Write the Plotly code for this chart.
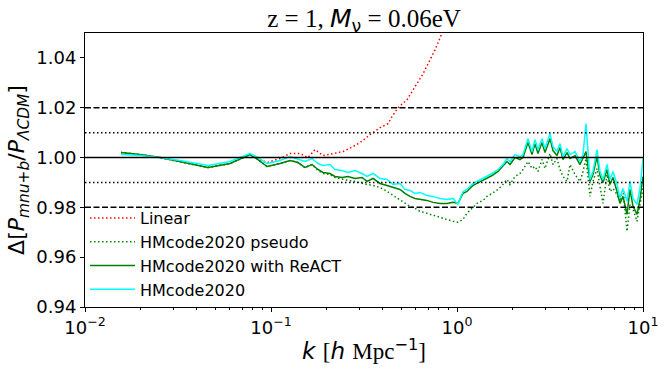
import plotly.graph_objects as go

# ---- data ----
k_nl = [0.01561, 0.01976, 0.02531, 0.03242, 0.04585, 0.06021, 0.07711, 0.08513, 0.09517, 0.11178,
        0.12652, 0.13970, 0.15233, 0.16611, 0.17893, 0.19037, 0.20760, 0.22080, 0.24080, 0.25944,
        0.28291, 0.30850, 0.32817, 0.35354, 0.38552, 0.42042, 0.45282, 0.49376, 0.52523, 0.55869,
        0.59430, 0.63218, 0.68982, 0.74294, 0.81015, 0.88361, 0.95171, 1.01246, 1.0771, 1.1317,
        1.2189, 1.2806, 1.3798, 1.4497, 1.5429, 1.6616, 1.7675, 1.8570, 1.9272, 2.0500,
        2.1808, 2.2632, 2.4078, 2.5301, 2.6258, 2.7253, 2.8638, 2.9722, 3.1623, 3.2819,
        3.4486, 3.5790, 3.7144, 3.9031, 4.0508, 4.3095, 4.5849, 4.7582, 4.9382, 5.1891,
        5.3852, 5.6586, 5.8722, 6.0942, 6.4040, 6.6459, 6.8970, 7.2476, 7.5215, 7.8057,
        8.2024, 8.5124, 8.8342, 9.2832, 9.6355, 10.0]

hmcode = [1.0012, 1.0008, 1.0000, 0.9988, 0.9968, 0.9984, 1.0016, 1.0000, 0.9976, 0.9988,
          1.0004, 0.9992, 0.9984, 0.9996, 0.9976, 0.9968, 0.9972, 0.9952, 0.9948, 0.9940,
          0.9948, 0.9936, 0.9924, 0.9936, 0.9916, 0.9912, 0.9892, 0.9896, 0.9872, 0.9868,
          0.9856, 0.9860, 0.9848, 0.9844, 0.9836, 0.9832, 0.9836, 0.9812, 0.9864, 0.9872,
          0.9896, 0.9904, 0.9916, 0.9924, 0.9936, 0.9952, 0.9972, 0.9996, 0.9984, 1.0012,
          1.0004, 1.0012, 1.0076, 1.0024, 1.0072, 1.0032, 1.0076, 1.0036, 1.0096, 1.0044,
          1.0024, 1.0056, 1.0004, 1.0036, 1.0012, 1.0024, 0.9984, 1.0012, 1.0136, 0.9912,
          0.9944, 1.0032, 0.9944, 0.9912, 0.9972, 0.9912, 0.9944, 0.9892, 0.9836, 0.9876,
          0.9824, 0.9904, 0.9836, 0.9812, 0.9876, 0.9996]

react = [1.0020, 1.0012, 1.0000, 0.9984, 0.9960, 0.9976, 1.0012, 0.9992, 0.9964, 0.9976,
         0.9988, 0.9980, 0.9960, 0.9972, 0.9952, 0.9940, 0.9936, 0.9924, 0.9920, 0.9924,
         0.9916, 0.9920, 0.9904, 0.9916, 0.9896, 0.9888, 0.9880, 0.9872, 0.9856, 0.9844,
         0.9836, 0.9832, 0.9828, 0.9820, 0.9816, 0.9816, 0.9820, 0.9816, 0.9856, 0.9864,
         0.9888, 0.9896, 0.9908, 0.9916, 0.9928, 0.9944, 0.9964, 0.9984, 0.9972, 1.0000,
         0.9992, 1.0000, 1.0060, 1.0012, 1.0056, 1.0016, 1.0060, 1.0020, 1.0076, 1.0028,
         1.0008, 1.0040, 0.9992, 1.0020, 0.9996, 1.0008, 0.9972, 0.9996, 1.0024, 0.9904,
         0.9932, 1.0004, 0.9928, 0.9900, 0.9952, 0.9892, 0.9920, 0.9864, 0.9816, 0.9844,
         0.9772, 0.9872, 0.9804, 0.9772, 0.9832, 0.9924]

pseudo = [1.0020, 1.0012, 1.0000, 0.9984, 0.9960, 0.9976, 1.0012, 0.9992, 0.9964, 0.9976,
          0.9988, 0.9980, 0.9960, 0.9972, 0.9948, 0.9936, 0.9932, 0.9920, 0.9912, 0.9908,
          0.9904, 0.9896, 0.9892, 0.9888, 0.9880, 0.9864, 0.9848, 0.9828, 0.9816, 0.9804,
          0.9796, 0.9784, 0.9776, 0.9768, 0.9760, 0.9752, 0.9744, 0.9740, 0.9752, 0.9776,
          0.9800, 0.9816, 0.9828, 0.9844, 0.9856, 0.9872, 0.9892, 0.9912, 0.9892, 0.9924,
          0.9936, 0.9952, 0.9984, 0.9956, 0.9964, 0.9944, 0.9992, 0.9956, 1.0016, 0.9972,
          0.9996, 0.9952, 0.9924, 0.9904, 0.9972, 0.9932, 0.9904, 0.9944, 0.9996, 0.9844,
          0.9904, 0.9956, 0.9884, 0.9816, 0.9932, 0.9864, 0.9876, 0.9852, 0.9824, 0.9876,
          0.9704, 0.9812, 0.9792, 0.9744, 0.9812, 0.9876]

k_lin = [0.01561, 0.01976, 0.02531, 0.03242, 0.04585, 0.06021, 0.07711, 0.08513, 0.09517, 0.11178,
         0.12652, 0.14321, 0.15811, 0.17239, 0.19037, 0.21544, 0.24378, 0.27593, 0.30102, 0.34064,
         0.38552, 0.42566, 0.44725, 0.48171, 0.53851, 0.59430, 0.65674, 0.71580, 0.76149, 0.81015,
         0.86197]
linear = [1.0020, 1.0012, 1.0000, 0.9984, 0.9960, 0.9976, 1.0012, 0.9996, 0.9980, 0.9996,
          1.0016, 1.0016, 1.0000, 1.0032, 1.0008, 1.0016, 1.0024, 1.0044, 1.0060, 1.0092,
          1.0120, 1.0136, 1.0164, 1.0200, 1.0232, 1.0284, 1.0336, 1.0392, 1.0432, 1.0480,
          1.0528]

ref_dashed = [1.02, 0.98]
ref_dotted = [1.01, 0.99]
ref_solid = [1.00]

y_ticks = [0.94, 0.96, 0.98, 1.00, 1.02, 1.04]
x_ticks = [0.01, 0.1, 1, 10]
x_ticktext = ["10<sup>−2</sup>", "10<sup>−1</sup>", "10<sup>0</sup>", "10<sup>1</sup>"]

DOT = "1.5px,2.5px"
DASH = "6px,2.5px"

fig = go.Figure()
fig.add_trace(go.Scatter(x=k_lin, y=linear, mode="lines", name="Linear",
                         line=dict(color="red", width=1.5, dash=DOT)))
fig.add_trace(go.Scatter(x=k_nl, y=pseudo, mode="lines", name="HMcode2020 pseudo",
                         line=dict(color="green", width=1.5, dash=DOT)))
fig.add_trace(go.Scatter(x=k_nl, y=react, mode="lines", name="HMcode2020 with ReACT",
                         line=dict(color="green", width=1.5)))
fig.add_trace(go.Scatter(x=k_nl, y=hmcode, mode="lines", name="HMcode2020",
                         line=dict(color="cyan", width=1.5)))

for v in ref_dashed:
    fig.add_shape(type="line", xref="paper", yref="y", x0=0, x1=1, y0=v, y1=v,
                  line=dict(color="black", width=1.5, dash=DASH))
for v in ref_dotted:
    fig.add_shape(type="line", xref="paper", yref="y", x0=0, x1=1, y0=v, y1=v,
                  line=dict(color="black", width=1.5, dash=DOT))
for v in ref_solid:
    fig.add_shape(type="line", xref="paper", yref="y", x0=0, x1=1, y0=v, y1=v,
                  line=dict(color="black", width=1.5))

minor_vals = [m * 10 ** e for e in (-2, -1, 0) for m in range(2, 10)]

SANS = "DejaVu Sans"
SERIF = "Liberation Serif"

fig.update_layout(
    width=666, height=375,
    margin=dict(l=85, r=23, t=33, b=68, autoexpand=False),
    paper_bgcolor="white", plot_bgcolor="white",
    font=dict(family=SANS, color="black", size=18),
    title=dict(
        text=("z = 1, <span style=\"font-family:DejaVu Sans\"><i>M</i><sub>ν</sub></span>"
              " = 0.06eV"),
        font=dict(family=SERIF, size=25, color="black"),
        x=0.5, xref="paper", xanchor="center",
        y=0.952, yanchor="middle"),
    showlegend=True,
    legend=dict(x=0.0, y=0.0, xanchor="left", yanchor="bottom",
                bgcolor="rgba(0,0,0,0)", font=dict(family=SANS, size=16, color="black"),
                tracegroupgap=0, itemwidth=45),
    xaxis=dict(type="log", range=[-2, 1], tickvals=x_ticks, ticktext=x_ticktext,
               showgrid=False, zeroline=False, showline=True, mirror=True,
               linecolor="black", linewidth=1, ticks="outside", ticklen=4,
               tickcolor="black", tickfont=dict(size=18), automargin=False,
               minor=dict(tickvals=minor_vals, ticks="outside", ticklen=2,
                          tickcolor="black", showgrid=False),
               title=dict(text=("<i>k</i> <span style=\"font-family:Liberation Serif\">[</span>"
                                "<i>h</i> <span style=\"font-family:Liberation Serif\">Mpc</span>"
                                "<sup>−1</sup><span style=\"font-family:Liberation Serif\">]</span>"),
                          font=dict(size=23), standoff=6)),
    yaxis=dict(range=[0.94, 1.05], tickvals=y_ticks, tickformat=".2f",
               showgrid=False, zeroline=False, showline=True, mirror=True,
               linecolor="black", linewidth=1, ticks="outside", ticklen=4,
               tickcolor="black", tickfont=dict(size=18), automargin=False,
               title=dict(text=("Δ[<i>P</i><sub><i>mnu</i>+<i>b</i></sub>/"
                                "<i>P</i><sub><i>ΛCDM</i></sub>]"),
                          font=dict(size=22), standoff=5)),
)

fig.write_html("out.html", config={"displayModeBar": False},
               post_script="document.body.style.margin='0px';")
